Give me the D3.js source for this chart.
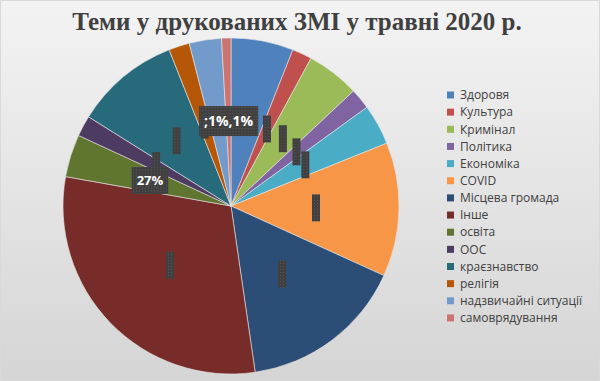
<!DOCTYPE html>
<html>
<head>
<meta charset="utf-8">
<script src="https://cdn.jsdelivr.net/npm/d3@7"></script>
<style>
  html, body { margin: 0; padding: 0; }
  body { width: 600px; height: 381px; overflow: hidden; }
</style>
</head>
<body>
<div id="chart"></div>
<script>
// data (share of all publications, %)
const categories = ["Здоровя", "Культура", "Кримінал", "Політика", "Економіка", "COVID",
  "Місцева громада", "Інше", "освіта", "ООС", "краєзнавство", "релігія",
  "надзвичайні ситуації", "самоврядування"];
const shares = [6.0, 1.9, 5.1, 2.0, 3.9, 12.9, 15.9, 30.1, 4.1, 2.0, 10.1, 2.0, 3.1, 0.9];
const colors = ["#4F81BD", "#C0504D", "#9BBB59", "#8064A2", "#4BACC6", "#F79646",
  "#2C4D75", "#772C2A", "#5F7530", "#4D3B62", "#276A7C", "#B65708", "#729ACA", "#CD7371"];
// data labels as they show in the picture (most are squeezed to empty boxes)
const labelTexts = ["", "", "", "", "", "", "", "", "27%", "", "", "", "", ";1%,1%"];

const titleText = "Теми у друкованих ЗМІ у травні 2020 р.";

const W = 600, H = 381;
const cx = 231, cy = 206, radius = 168;
const labelRadius = 85;

const svg = d3.select("#chart").append("svg")
  .attr("width", W)
  .attr("height", H);

const defs = svg.append("defs");
const bg = defs.append("linearGradient")
  .attr("id", "bgGrad")
  .attr("x1", 0).attr("y1", 0).attr("x2", 0).attr("y2", 1);
bg.append("stop").attr("offset", "0%").attr("stop-color", "#f3f3f3");
bg.append("stop").attr("offset", "100%").attr("stop-color", "#d5d5d5");

// dotted fill used by the dark label boxes
const pat = defs.append("pattern")
  .attr("id", "dots")
  .attr("width", 3).attr("height", 3)
  .attr("patternUnits", "userSpaceOnUse");
pat.append("rect").attr("width", 3).attr("height", 3).attr("fill", "#404040");
pat.append("rect").attr("x", 1).attr("y", 1).attr("width", 1).attr("height", 1).attr("fill", "#595959");

svg.append("rect")
  .attr("x", 0.5).attr("y", 0.5)
  .attr("width", W - 1).attr("height", H - 1)
  .attr("fill", "url(#bgGrad)")
  .attr("stroke", "#d9d9d9");

svg.append("text")
  .attr("x", 297)
  .attr("y", 30)
  .attr("text-anchor", "middle")
  .style("font-family", "'Liberation Serif', 'Times New Roman', serif")
  .style("font-weight", "bold")
  .style("font-size", "25px")
  .attr("fill", "#404040")
  .text(titleText);

const items = categories.map((c, i) => ({name: c, value: shares[i], color: colors[i], label: labelTexts[i]}));

const pie = d3.pie().sort(null).value(d => d.value);
const arcs = pie(items);
const arc = d3.arc().innerRadius(0).outerRadius(radius);
const labelArc = d3.arc().innerRadius(labelRadius).outerRadius(labelRadius);

const pieG = svg.append("g")
  .attr("class", "pieG")
  .attr("transform", "translate(" + cx + "," + cy + ")");

pieG.selectAll(".slice")
  .data(arcs)
  .join("path")
  .attr("class", "slice")
  .attr("d", arc)
  .attr("fill", d => d.data.color)
  .attr("stroke", "#e6e6e6")
  .attr("stroke-width", 0.6);

// label boxes: narrow empty ones first, the ones with text on top
const labelG = pieG.append("g").attr("class", "labelG");
const boxH = 27;
const labelFont = "'Open Sans', 'DejaVu Sans', sans-serif";
const sorted = arcs.slice().sort((a, b) => (a.data.label ? 1 : 0) - (b.data.label ? 1 : 0));

sorted.forEach(d => {
  const [lx, ly] = labelArc.centroid(d);
  const g = labelG.append("g").attr("transform", "translate(" + lx + "," + ly + ")");
  const box = g.append("rect").attr("fill", "url(#dots)");
  const long = d.data.label.length > 4;
  let bw = 8;
  if (d.data.label) {
    const t = g.append("text")
      .attr("text-anchor", "middle")
      .attr("dy", "0.36em")
      .style("font-family", labelFont)
      .style("font-weight", "bold")
      .style("font-size", long ? "14px" : "13px")
      .attr("fill", "#ffffff")
      .text(d.data.label);
    bw = t.node().getComputedTextLength() + 10;
  }
  const bh = long ? 30 : boxH;
  box.attr("x", -bw / 2).attr("y", -bh / 2).attr("width", bw).attr("height", bh);
});

// legend
const legendG = svg.append("g")
  .attr("class", "legendG")
  .attr("transform", "translate(447,95)");
const rowH = 17.15;
const rows = legendG.selectAll(".legendRow")
  .data(items)
  .join("g")
  .attr("class", "legendRow")
  .attr("transform", (d, i) => "translate(0," + (i * rowH) + ")");
rows.append("rect")
  .attr("x", 0).attr("y", -3.5)
  .attr("width", 7).attr("height", 7)
  .attr("fill", d => d.color);
rows.append("text")
  .attr("x", 13)
  .attr("dy", "0.35em")
  .style("font-family", labelFont)
  .style("font-size", "12px")
  .attr("fill", "#404040")
  .text(d => d.name);
</script>
</body>
</html>
